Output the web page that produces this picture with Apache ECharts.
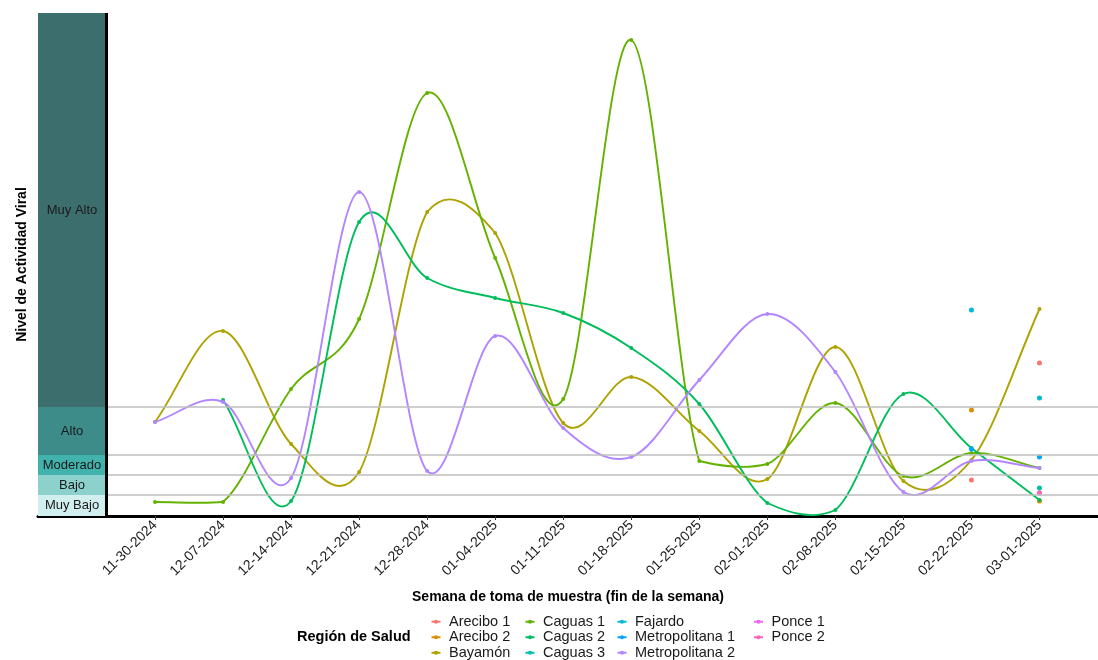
<!DOCTYPE html>
<html>
<head>
<meta charset="utf-8">
<script src="https://cdn.jsdelivr.net/npm/echarts@6/dist/echarts.min.js"></script>
<style>
  html, body { margin: 0; padding: 0; background: #fff; }
  #chart { width: 1098px; height: 660px; }
</style>
</head>
<body>
<div id="chart"></div>
<script>
// Week-ending sample dates
const weeks = ['11-30-2024', '12-07-2024', '12-14-2024', '12-21-2024', '12-28-2024', '01-04-2025',
  '01-11-2025', '01-18-2025', '01-25-2025', '02-01-2025', '02-08-2025', '02-15-2025', '02-22-2025', '03-01-2025'];

// Activity level bands (lower/upper bound on the viral-activity scale)
const levelNames = ['Muy Bajo', 'Bajo', 'Moderado', 'Alto', 'Muy Alto'];
const levelCuts = [0, 21, 41, 61, 109, 503];
const levelColors = ['#D1EFEE', '#8DD1CC', '#42B3AC', '#3E8C89', '#3C6E6D'];

// Viral activity per health region (null = no sample that week)
const arecibo1 = [null, null, null, null, null, null, null, null, null, null, null, null, 36, 153];
const arecibo2 = [null, null, null, null, null, null, null, null, null, null, null, null, 106, 15];
const bayamon = [94, 185, 72, 44, 304, 283, 93, 139, 85, 37, 169, 35, 56, 207];
const caguas1 = [14, 14, 127, 197, 423, 258, 117, 476, 55, 52, 113, 40, 63, 48];
const caguas2 = [null, 116, 15, 294, 238, 218, 203, 168, 112, 13, 6, 122, 68, 16];
const caguas3 = [null, null, null, null, null, null, null, null, null, null, null, null, null, 28];
const fajardo = [null, null, null, null, null, null, null, null, null, null, null, null, 206, 118];
const metropolitana1 = [null, null, null, null, null, null, null, null, null, null, null, null, 67, 59];
const metropolitana2 = [94, 114, 38, 324, 45, 180, 88, 59, 136, 202, 144, 24, 55, 48];
const ponce1 = [null, null, null, null, null, null, null, null, null, null, null, null, null, 23];
const ponce2 = [null, null, null, null, null, null, null, null, null, null, null, null, null, 23];

const regions = [
  { name: 'Arecibo 1', color: '#F8766D', values: arecibo1, line: false },
  { name: 'Arecibo 2', color: '#DB8E00', values: arecibo2, line: false },
  { name: 'Bayamón', color: '#AEA200', values: bayamon, line: true },
  { name: 'Caguas 1', color: '#64B200', values: caguas1, line: true },
  { name: 'Caguas 2', color: '#00BD5C', values: caguas2, line: true },
  { name: 'Caguas 3', color: '#00C1A7', values: caguas3, line: false },
  { name: 'Fajardo', color: '#00BADE', values: fajardo, line: false },
  { name: 'Metropolitana 1', color: '#00A6FF', values: metropolitana1, line: false },
  { name: 'Metropolitana 2', color: '#B385FF', values: metropolitana2, line: true },
  { name: 'Ponce 1', color: '#EF67EB', values: ponce1, line: false },
  { name: 'Ponce 2', color: '#FF63B6', values: ponce2, line: false }
];

// x extent: band column sits one step left of the first week
const X_MIN = -1.72;
const BAND_EDGE = -0.72;
const X_MAX = 13.86;
const Y_MAX = levelCuts[levelCuts.length - 1];
const weekIdx = weeks.map((_, i) => i);

const FONT = 'Liberation Sans, Arial, Helvetica, sans-serif';

const bandAreas = levelNames.map((name, i) => [
  {
    name: name,
    xAxis: X_MIN, yAxis: levelCuts[i],
    itemStyle: { color: levelColors[i], opacity: 1 }
  },
  { xAxis: BAND_EDGE, yAxis: levelCuts[i + 1] }
]);

const thresholdLines = levelCuts.slice(1, 5).map(v => [
  { coord: [BAND_EDGE, v] },
  { coord: [X_MAX, v] }
]);

const backgroundSeries = {
  name: '__levels',
  type: 'line',
  data: [],
  silent: true,
  z: 1,
  markArea: {
    silent: true,
    label: {
      show: true, position: 'inside', color: '#1a1a1a',
      fontSize: 13, fontFamily: FONT
    },
    data: bandAreas
  },
  markLine: {
    silent: true,
    symbol: 'none',
    label: { show: false },
    lineStyle: { color: '#BEBEBE', width: 1.6, type: 'solid' },
    data: thresholdLines.concat([[
      { coord: [BAND_EDGE, 0], lineStyle: { color: '#000', width: 3, type: 'solid' } },
      { coord: [BAND_EDGE, Y_MAX] }
    ]])
  }
};

// Cardinal spline segment between week i and i+1; the vertical pull of each
// control handle is limited by the rise of its own segment so that flat
// stretches next to big jumps stay flat.
const HANDLE_RISE_FACTOR = 1.2;
const HANDLE_RISE_PAD = 2;
function splineSegment(values, color) {
  return function (params, api) {
    const i = api.value(0);
    const v1 = values[i];
    const v2 = values[i + 1];
    if (v1 == null || v2 == null) return null;
    const p1 = api.coord([i, v1]);
    const p2 = api.coord([i + 1, v2]);
    const v0 = values[i - 1];
    const v3 = values[i + 2];
    const p0 = v0 != null ? api.coord([i - 1, v0]) : [2 * p1[0] - p2[0], 2 * p1[1] - p2[1]];
    const p3 = v3 != null ? api.coord([i + 2, v3]) : [2 * p2[0] - p1[0], 2 * p2[1] - p1[1]];
    const lim = HANDLE_RISE_FACTOR * Math.abs(p2[1] - p1[1]) + HANDLE_RISE_PAD;
    const clampY = d => Math.max(-lim, Math.min(lim, d));
    const o1 = [(p2[0] - p0[0]) / 6, clampY((p2[1] - p0[1]) / 6)];
    const o2 = [(p3[0] - p1[0]) / 6, clampY((p3[1] - p1[1]) / 6)];
    return {
      type: 'bezierCurve',
      silent: true,
      shape: {
        x1: p1[0], y1: p1[1],
        cpx1: p1[0] + o1[0], cpy1: p1[1] + o1[1],
        cpx2: p2[0] - o2[0], cpy2: p2[1] - o2[1],
        x2: p2[0], y2: p2[1]
      },
      style: { stroke: color, lineWidth: 1.9, fill: 'none' }
    };
  };
}

// Points for every region (also supply the legend keys)
const pointSeries = regions.map(r => ({
  name: r.name,
  type: 'line',
  z: 4,
  symbol: 'circle',
  symbolSize: r.line ? 4 : 5,
  showSymbol: true,
  color: r.color,
  itemStyle: { color: r.color },
  lineStyle: { color: r.color, width: 0, opacity: 0 },
  data: r.values.map((v, i) => [i, v])
}));

// Smoothed curves for the regions with a full series
const curveSeries = regions.filter(r => r.line).map(r => ({
  name: r.name,
  type: 'custom',
  coordinateSystem: 'cartesian2d',
  z: 3,
  clip: true,
  color: r.color,
  renderItem: splineSegment(r.values, r.color),
  encode: { x: 0, y: 1 },
  data: r.values.map((v, i) => (v == null ? null : [i, v])).filter(d => d !== null)
}));

const legendCols = [
  { names: ['Arecibo 1', 'Arecibo 2', 'Bayamón'], left: 430.5 },
  { names: ['Caguas 1', 'Caguas 2', 'Caguas 3'], left: 524.5 },
  { names: ['Fajardo', 'Metropolitana 1', 'Metropolitana 2'], left: 616.5 },
  { names: ['Ponce 1', 'Ponce 2'], left: 753 }
];

const legends = legendCols.map(c => ({
  orient: 'vertical',
  left: c.left,
  top: 614,
  height: 60,
  padding: 0,
  itemWidth: 9,
  itemHeight: 5,
  itemGap: 0,
  selectedMode: false,
  lineStyle: { width: 2, opacity: 1 },
  textStyle: { fontSize: 14.5, lineHeight: 15.5, color: '#1a1a1a', fontFamily: FONT, padding: [0, 0, 0, 3.5] },
  data: c.names
}));

const option = {
  animation: false,
  backgroundColor: '#ffffff',
  textStyle: { fontFamily: FONT },
  grid: { left: 38, right: 0, top: 13, bottom: 144, containLabel: false },
  xAxis: {
    type: 'value',
    min: X_MIN,
    max: X_MAX,
    name: 'Semana de toma de muestra (fin de la semana)',
    nameLocation: 'middle',
    nameGap: 74,
    nameTextStyle: { fontSize: 14, fontWeight: 'bold', color: '#000', fontFamily: FONT },
    axisLine: { show: true, lineStyle: { color: '#000', width: 3 } },
    axisTick: { show: true, customValues: weekIdx, length: 4, lineStyle: { color: '#333', width: 1 } },
    axisLabel: {
      show: true,
      customValues: weekIdx,
      rotate: 45,
      margin: 7,
      fontSize: 14,
      color: '#1a1a1a',
      fontFamily: FONT,
      formatter: v => weeks[Math.round(v)] || ''
    },
    splitLine: { show: false }
  },
  yAxis: {
    type: 'value',
    min: 0,
    max: Y_MAX,
    name: 'Nivel de Actividad Viral',
    nameLocation: 'middle',
    nameRotate: 90,
    nameGap: 9,
    nameTextStyle: { fontSize: 14, fontWeight: 'bold', color: '#000', fontFamily: FONT },
    axisLine: { show: false },
    axisTick: { show: false },
    axisLabel: { show: false },
    splitLine: { show: false }
  },
  legend: legends,
  graphic: [{
    type: 'text',
    left: 297,
    top: 629,
    style: { text: 'Región de Salud', fontSize: 14.5, fontWeight: 'bold', fill: '#000', fontFamily: FONT }
  }],
  series: [backgroundSeries].concat(pointSeries, curveSeries)
};

const chart = echarts.init(document.getElementById('chart'), null, { renderer: 'canvas' });
chart.setOption(option);
</script>
</body>
</html>
